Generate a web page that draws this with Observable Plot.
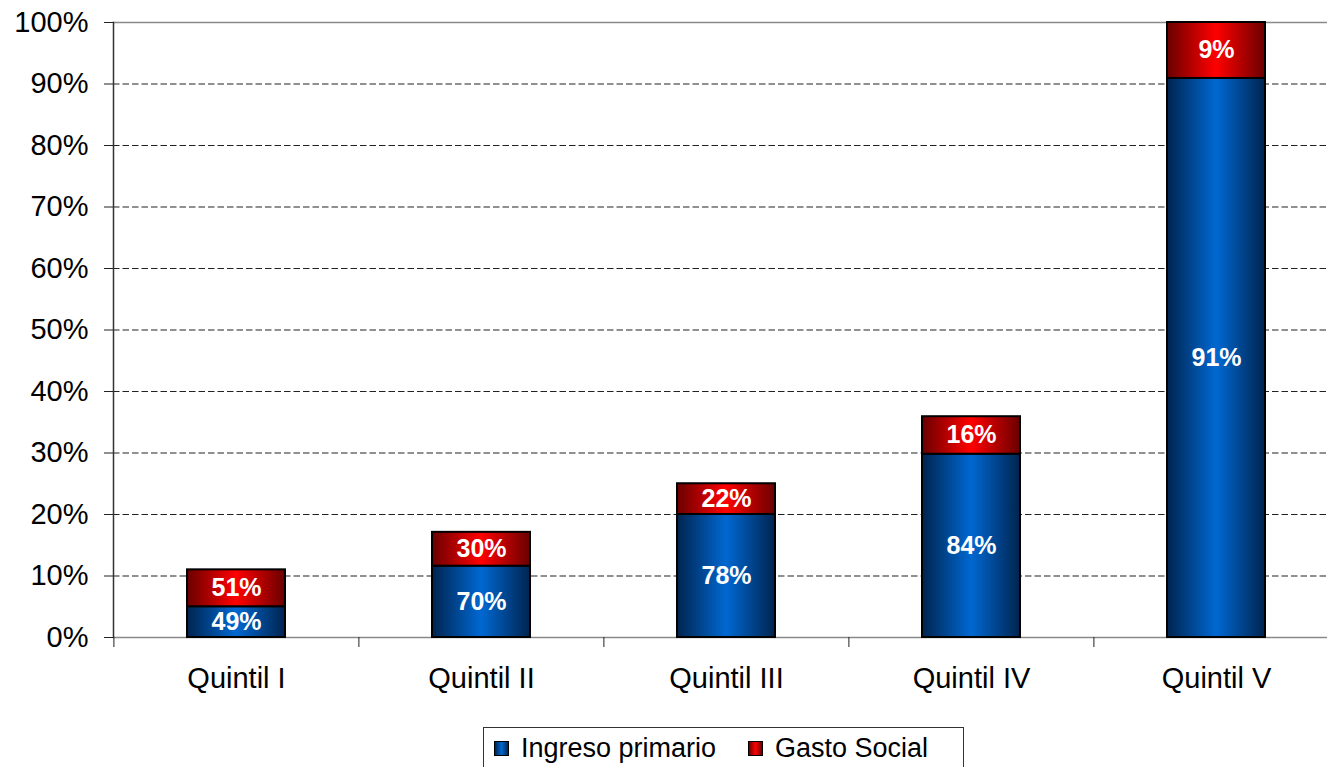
<!DOCTYPE html>
<html>
<head>
<meta charset="utf-8">
<script src="https://cdn.jsdelivr.net/npm/d3@7"></script>
<script src="https://cdn.jsdelivr.net/npm/@observablehq/plot@0.6"></script>
<style>
  html, body { margin: 0; padding: 0; background: #fff; overflow: hidden; }
  body { width: 1327px; height: 767px; position: relative; font-family: "Liberation Sans", Arial, sans-serif; }
  #chart { position: absolute; left: 0; top: 0; }
  #legend { position: absolute; left: 483px; top: 727px; width: 481px; height: 50px; border: 1px solid #333; box-sizing: border-box; background: #fff; font-size: 27px; color: #000; }
  .item { position: absolute; top: 5px; display: flex; align-items: center; white-space: nowrap; }
  .sw { width: 13px; height: 13px; border: 1px solid #000; margin-right: 12px; }
</style>
</head>
<body>
<div id="chart"></div>
<div id="legend"></div>
<script>
const quintiles = ["Quintil I", "Quintil II", "Quintil III", "Quintil IV", "Quintil V"];
const series = ["Ingreso primario", "Gasto Social"];
// bar heights (% of Quintil V total)
const ingresoPrimario = [5.0, 11.6, 20.0, 29.8, 90.9];
const gastoSocial = [6.0, 5.5, 5.0, 6.1, 9.1];
// data labels (share of each segment within the bar)
const labelsIngreso = [49, 70, 78, 84, 91];
const labelsGasto = [51, 30, 22, 16, 9];
const yTicks = [0, 10, 20, 30, 40, 50, 60, 70, 80, 90, 100];
const gridTicks = [10, 20, 30, 40, 50, 60, 70, 80, 90];

const table = [];
quintiles.forEach((q, i) => {
  table.push({q, serie: series[0], value: ingresoPrimario[i], label: labelsIngreso[i]});
  table.push({q, serie: series[1], value: gastoSocial[i], label: labelsGasto[i]});
});

const W = 1327;
const x0 = 113, x1 = 1339;
const step = (x1 - x0) / 5;
const font = '"Liberation Sans", Arial, sans-serif';

const plot = Plot.plot({
  width: W,
  height: 722,
  marginTop: 22,
  marginBottom: 85,
  marginLeft: 113,
  marginRight: 0,
  style: {fontFamily: font, background: "white", color: "#000", overflow: "visible"},
  x: {type: "band", domain: quintiles, range: [x0, x1], paddingInner: 0.6, paddingOuter: 0.3},
  y: {domain: [0, 100]},
  color: {domain: series, range: ["url(#gradBlue)", "url(#gradRed)"]},
  marks: [
    Plot.ruleY(gridTicks, {stroke: "#222", strokeWidth: 1.2, strokeDasharray: "6.5,3"}),
    Plot.ruleY([100], {stroke: "#8a8a8a", strokeWidth: 1.5}),
    Plot.ruleY([0], {stroke: "#8a8a8a", strokeWidth: 1.5}),
    Plot.barY(table, {x: "q", y: "value", fill: "serie", stroke: "#000", strokeWidth: 2}),
    Plot.text(table, Plot.stackY({x: "q", y: "value", text: d => d.label + "%", fill: "white", fontWeight: "bold", fontSize: 25})),
    Plot.frame({anchor: "left", stroke: "#333", strokeWidth: 1.5}),
    Plot.axisY({ticks: yTicks, tickFormat: d => d + "%", tickSize: 9, tickPadding: 16, fontSize: 29, stroke: "#222", label: null}),
    Plot.axisX({tickSize: 10, dx: -step / 2, tickFormat: () => "", stroke: "#222", label: null}),
    Plot.axisX({tickSize: 0, tickPadding: 30, fontSize: 29, label: null})
  ]
});

// gradient definitions for bar fills
const svg = d3.select(plot);
const defs = svg.insert("defs", ":first-child");
function grad(id, edge, center) {
  const g = defs.append("linearGradient").attr("id", id).attr("x1", "0").attr("x2", "1").attr("y1", "0").attr("y2", "0");
  g.append("stop").attr("offset", "0").attr("stop-color", edge);
  g.append("stop").attr("offset", "0.5").attr("stop-color", center);
  g.append("stop").attr("offset", "1").attr("stop-color", edge);
}
grad("gradBlue", "#00244f", "#0068d2");
grad("gradRed", "#6a0000", "#ff0000");

document.getElementById("chart").appendChild(plot);

// legend
const legend = document.getElementById("legend");
const swatchCss = ["linear-gradient(to right,#00244f,#0068d2,#00244f)", "linear-gradient(to right,#6a0000,#ff0000,#6a0000)"];
const lefts = [10, 264];
series.forEach((s, i) => {
  const item = document.createElement("div");
  item.className = "item";
  item.style.left = lefts[i] + "px";
  const sw = document.createElement("div");
  sw.className = "sw";
  sw.style.background = swatchCss[i];
  const t = document.createElement("span");
  t.textContent = s;
  item.appendChild(sw);
  item.appendChild(t);
  legend.appendChild(item);
});
</script>
</body>
</html>
